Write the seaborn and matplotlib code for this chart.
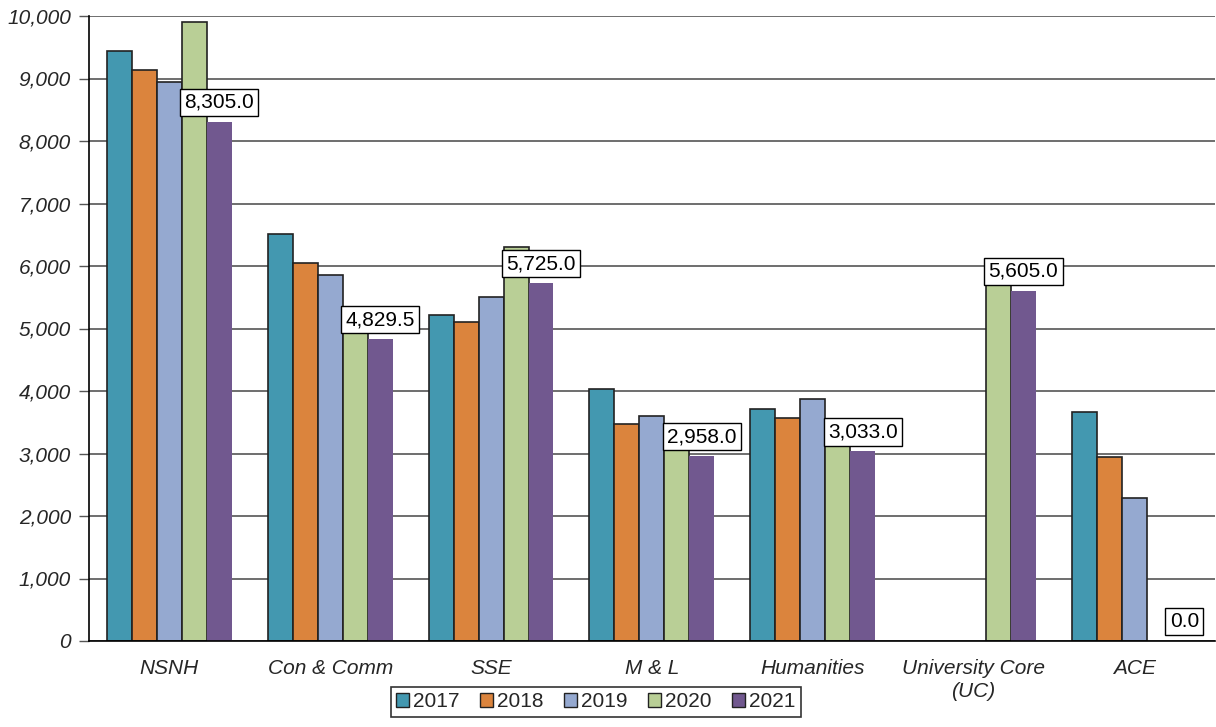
import numpy as np
import pandas as pd
import matplotlib
matplotlib.use("Agg")
import matplotlib.pyplot as plt
import seaborn as sns
from matplotlib.patches import Patch

categories = ["NSNH", "Con & Comm", "SSE", "M & L", "Humanities", "University Core\n(UC)", "ACE"]
years = ["2017", "2018", "2019", "2020", "2021"]
v2017 = [9440, 6520, 5215, 4035, 3710, np.nan, 3665]
v2018 = [9140, 6050, 5105, 3475, 3570, np.nan, 2945]
v2019 = [8940, 5860, 5505, 3600, 3870, np.nan, 2290]
v2020 = [9900, 4980, 6305, 3100, 3150, 5850, np.nan]
v2021 = [8305.0, 4829.5, 5725.0, 2958.0, 3033.0, 5605.0, 0.0]
colors = ["#4398B0", "#DB843D", "#95A9D0", "#B9CF96", "#71588F"]

series = [v2017, v2018, v2019, v2020, v2021]
rows = []
for y, vals in zip(years, series):
    for c, v in zip(categories, vals):
        rows.append({"cat": c, "year": y, "value": v})
df = pd.DataFrame(rows)

sns.set_theme(style="white")
plt.rcParams["font.family"] = ["Liberation Sans", "DejaVu Sans"]

fig = plt.figure(figsize=(12.16, 7.27), dpi=100)
ax = fig.add_axes([89/1216, 1 - 641/727, 1 - 89/1216 - 0.001, (641 - 16)/727])

ax.set_axisbelow(True)
ax.yaxis.grid(True, color="#555555", linewidth=1.2)

sns.barplot(data=df, x="cat", y="value", hue="year", order=categories, hue_order=years,
            palette=colors, errorbar=None, width=0.776, gap=0, ax=ax,
            edgecolor="#222222", linewidth=1.2, saturation=1, legend=False)

# remove edge on 2021 bars
for cont, y in zip(ax.containers, years):
    if y == "2021":
        for p in cont.patches:
            p.set_edgecolor("none")

# annotations on 2021 bars
cont21 = ax.containers[-1]
for p, v in zip(cont21.patches, v2021):
    if np.isnan(v):
        continue
    xc = p.get_x() + p.get_width() / 2
    ax.annotate(f"{v:,.1f}", xy=(xc, v), xytext=(0, 14), textcoords="offset points",
                ha="center", va="center", fontsize=15, color="black",
                bbox=dict(boxstyle="square,pad=0.2", fc="white", ec="black", lw=1))

ax.set_ylim(0, 10000)
ax.set_xlim(-0.5, len(categories) - 0.5)
ax.set_yticks(np.arange(0, 10001, 1000))
ax.set_yticklabels([f"{int(t):,}" for t in np.arange(0, 10001, 1000)], fontsize=15, style="italic")
ax.set_xticks(range(len(categories)))
ax.set_xticklabels(categories, fontsize=15, style="italic", linespacing=1.25)
ax.tick_params(axis="x", which="major", length=0, pad=13)
ax.set_xticks(np.arange(-0.5, len(categories) - 0.4, 1), minor=True)
ax.tick_params(axis="x", which="minor", length=7, width=1, color="black", direction="out")
ax.tick_params(axis="y", which="major", length=7, width=1, color="#555555", direction="out", pad=6, left=True)
ax.set_xlabel("")
ax.set_ylabel("")

for s in ["top", "right"]:
    ax.spines[s].set_visible(False)
for s in ["left", "bottom"]:
    ax.spines[s].set_visible(True)
    ax.spines[s].set_color("black")
    ax.spines[s].set_linewidth(1.2)

handles = [Patch(facecolor=c, edgecolor="#222222", label=y) for c, y in zip(colors, years)]
leg = fig.legend(handles=handles, loc="lower center", bbox_to_anchor=(596/1216, 0.0), ncol=5,
                 fontsize=15, frameon=True, fancybox=False, edgecolor="black",
                 handlelength=0.6, handleheight=0.6, handletextpad=0.2, columnspacing=1.0,
                 borderpad=0.25)
leg.get_frame().set_linewidth(1.2)

fig.savefig("out.png", dpi=100, facecolor="white")
